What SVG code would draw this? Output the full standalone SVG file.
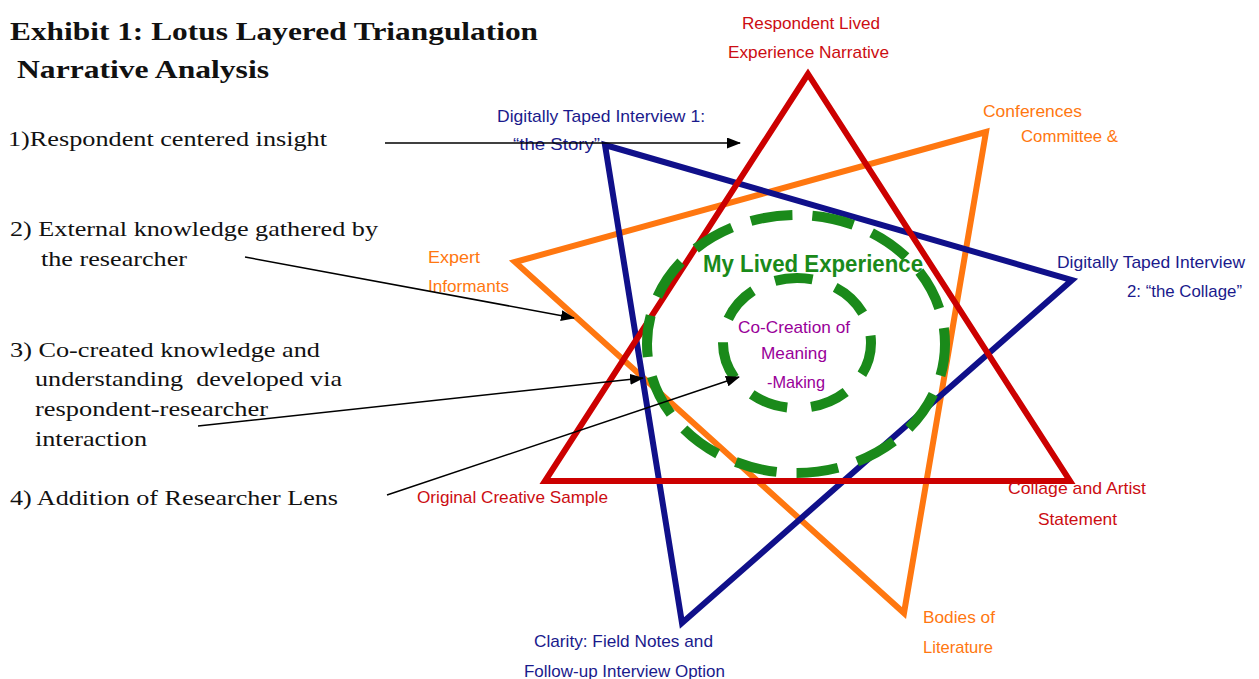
<svg xmlns="http://www.w3.org/2000/svg" width="1259" height="679" viewBox="0 0 1259 679">
  <defs>
    <marker id="arrowhead" viewBox="0 0 14 11" refX="13" refY="5.5" markerWidth="14" markerHeight="11" markerUnits="userSpaceOnUse" orient="auto">
      <path d="M0,0 L14,5.5 L0,11 Z" fill="#000"/>
    </marker>
    <style>
      .serif { font-family: "Liberation Serif", "Times New Roman", serif; fill: #111; }
      .title { font-size: 26px; font-weight: bold; }
      .note { font-size: 21px; }
      .lbl { font-family: "Liberation Sans", Arial, sans-serif; font-size: 17px; }
      .red { fill: #cc0d12; }
      .navy { fill: #1a1a8c; }
      .orange { fill: #ff7710; }
      .tri { fill: none; stroke-width: 6; stroke-linejoin: miter; }
      .ring { fill: none; stroke: #1a8a1a; stroke-width: 10; }
      .conn { fill: none; stroke: #000; stroke-width: 1.5; marker-end: url(#arrowhead); }
    </style>
  </defs>
  <rect width="1259" height="679" fill="#fff"/>

  <!-- heading -->
  <g id="title" class="serif title">
    <text x="10" y="40" textLength="528" lengthAdjust="spacingAndGlyphs">Exhibit 1: Lotus Layered Triangulation</text>
    <text x="17" y="78" textLength="252" lengthAdjust="spacingAndGlyphs">Narrative Analysis</text>
  </g>

  <!-- numbered legend on the left -->
  <g id="legend-1" class="serif note">
    <text x="8" y="146" textLength="319" lengthAdjust="spacingAndGlyphs">1)Respondent centered insight</text>
  </g>
  <g id="legend-2" class="serif note">
    <text x="10" y="236" textLength="368" lengthAdjust="spacingAndGlyphs">2) External knowledge gathered by</text>
    <text x="41" y="266" textLength="146" lengthAdjust="spacingAndGlyphs">the researcher</text>
  </g>
  <g id="legend-3" class="serif note">
    <text x="10" y="357" textLength="310" lengthAdjust="spacingAndGlyphs">3) Co-created knowledge and</text>
    <text x="35" y="386" textLength="307" lengthAdjust="spacingAndGlyphs" xml:space="preserve">understanding  developed via</text>
    <text x="35" y="416" textLength="233" lengthAdjust="spacingAndGlyphs">respondent-researcher</text>
    <text x="35" y="446" textLength="112" lengthAdjust="spacingAndGlyphs">interaction</text>
  </g>
  <g id="legend-4" class="serif note">
    <text x="10" y="505" textLength="328" lengthAdjust="spacingAndGlyphs">4) Addition of Researcher Lens</text>
  </g>

  <!-- three interlocking triangles -->
  <g id="triangle-orange">
    <polygon class="tri" stroke="#ff7710" points="515,262 986,132 904,613"/>
  </g>
  <g id="triangle-navy">
    <polygon class="tri" stroke="#10108a" points="605,145 1072,280 682,623"/>
  </g>
  <g id="triangle-red">
    <polygon class="tri" stroke="#cc0000" points="808,74 545,481 1070,481"/>
  </g>

  <!-- dashed rings -->
  <g id="ring-outer">
    <ellipse class="ring" cx="796" cy="344" rx="149" ry="129" stroke-dasharray="42 20" stroke-dashoffset="10"/>
    <text x="703" y="272" textLength="220" lengthAdjust="spacingAndGlyphs" font-family="Liberation Sans, Arial, sans-serif" font-size="24" font-weight="bold" fill="#1a8a1a">My Lived Experience</text>
  </g>
  <g id="ring-inner">
    <ellipse class="ring" cx="797" cy="343" rx="74" ry="65" stroke-dasharray="38 24" stroke-dashoffset="5"/>
    <g class="lbl" fill="#990099">
      <text x="738" y="333" textLength="112" lengthAdjust="spacingAndGlyphs">Co-Creation of</text>
      <text x="761" y="359" textLength="66" lengthAdjust="spacingAndGlyphs">Meaning</text>
      <text x="767" y="388" textLength="58" lengthAdjust="spacingAndGlyphs">-Making</text>
    </g>
  </g>

  <!-- vertex labels -->
  <g id="label-respondent-narrative" class="lbl red">
    <text x="742" y="29" textLength="138" lengthAdjust="spacingAndGlyphs">Respondent Lived</text>
    <text x="728" y="58" textLength="161" lengthAdjust="spacingAndGlyphs">Experience Narrative</text>
  </g>
  <g id="label-interview-1" class="lbl navy">
    <text x="497" y="122" textLength="208" lengthAdjust="spacingAndGlyphs">Digitally Taped Interview 1:</text>
    <text x="513" y="150" textLength="87" lengthAdjust="spacingAndGlyphs">“the Story”</text>
  </g>
  <g id="label-conferences" class="lbl orange">
    <text x="983" y="117" textLength="99" lengthAdjust="spacingAndGlyphs">Conferences</text>
    <text x="1021" y="142" textLength="97" lengthAdjust="spacingAndGlyphs">Committee &amp;</text>
  </g>
  <g id="label-experts" class="lbl orange">
    <text x="428" y="263" textLength="52" lengthAdjust="spacingAndGlyphs">Expert</text>
    <text x="428" y="292" textLength="81" lengthAdjust="spacingAndGlyphs">Informants</text>
  </g>
  <g id="label-interview-2" class="lbl navy">
    <text x="1057" y="268" textLength="188" lengthAdjust="spacingAndGlyphs">Digitally Taped Interview</text>
    <text x="1127" y="297" textLength="115" lengthAdjust="spacingAndGlyphs">2: “the Collage”</text>
  </g>
  <g id="label-creative-sample" class="lbl red">
    <text x="417" y="503" textLength="191" lengthAdjust="spacingAndGlyphs">Original Creative Sample</text>
  </g>
  <g id="label-collage" class="lbl red">
    <text x="1008" y="494" textLength="138" lengthAdjust="spacingAndGlyphs">Collage and Artist</text>
    <text x="1038" y="525" textLength="79" lengthAdjust="spacingAndGlyphs">Statement</text>
  </g>
  <g id="label-literature" class="lbl orange">
    <text x="923" y="623" textLength="72" lengthAdjust="spacingAndGlyphs">Bodies of</text>
    <text x="923" y="653" textLength="70" lengthAdjust="spacingAndGlyphs">Literature</text>
  </g>
  <g id="label-field-notes" class="lbl navy">
    <text x="534" y="647" textLength="179" lengthAdjust="spacingAndGlyphs">Clarity: Field Notes and</text>
    <text x="524" y="677" textLength="201" lengthAdjust="spacingAndGlyphs">Follow-up Interview Option</text>
  </g>

  <!-- pointers from the legend into the figure -->
  <g id="connectors">
    <line class="conn" x1="385" y1="143" x2="740" y2="143"/>
    <line class="conn" x1="245" y1="257" x2="574" y2="318"/>
    <line class="conn" x1="198" y1="426" x2="643" y2="378"/>
    <line class="conn" x1="387" y1="495" x2="739" y2="377"/>
  </g>
</svg>
